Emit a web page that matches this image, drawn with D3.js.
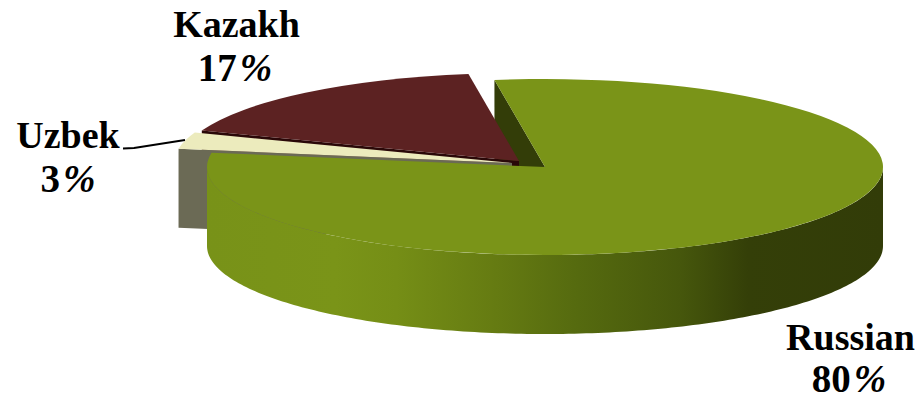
<!DOCTYPE html>
<html>
<head>
<meta charset="utf-8">
<script src="https://cdnjs.cloudflare.com/ajax/libs/d3/7.8.5/d3.min.js"></script>
<style>
html,body{margin:0;padding:0;background:#fff;overflow:hidden}
svg{display:block}
text{font-family:"Liberation Serif",serif;font-weight:700;fill:#000;text-anchor:middle}
</style>
</head>
<body>
<svg id="chart" width="922" height="400"></svg>
<script>
// Data
const categories = ["Russian", "Uzbek", "Kazakh"];
const shares = [80, 3, 17];
const shareLabels = ["80%", "3%", "17%"];

// Appearance
const topColors = ["#7a9418", "#ecebbd", "#5c2222"];
const cutColors = ["#333d08", "#6b6a55", "#2a0808"];

const svg = d3.select("#chart");
const rx = 338, ry = 88, depth = 79;
const toRad = d => d * Math.PI / 180;
const startDeg = -8.6;

const pie = d3.pie().sort(null).value(d => d)
  .startAngle(toRad(startDeg)).endAngle(toRad(startDeg + 360));
const slices = pie(shares);

// Centres of each (exploded) slice on the page
const centers = [{x:545,y:167},{x:512,y:163},{x:519,y:161}];

const arc = d3.arc().innerRadius(0).outerRadius(rx);
const px = (c,a) => c.x + rx*Math.sin(a);
const py = (c,a) => c.y - ry*Math.cos(a);

const defs = svg.append("defs");
const grad = defs.append("linearGradient").attr("id","wall")
  .attr("gradientUnits","userSpaceOnUse")
  .attr("x1",207).attr("x2",883).attr("y1",0).attr("y2",0);
[[0,"#789218"],[0.19,"#7a9418"],[0.28,"#758e16"],[0.42,"#667c12"],[0.55,"#556a0f"],[0.70,"#46570c"],[0.80,"#343f08"],[1,"#323c08"]]
  .forEach(s => grad.append("stop").attr("offset",s[0]).attr("stop-color",s[1]));

function cutWall(i, a, color){
  const c = centers[i];
  const p = [[c.x,c.y],[px(c,a),py(c,a)],[px(c,a),py(c,a)+depth],[c.x,c.y+depth]];
  svg.append("path").attr("d", d3.line()(p)+"Z").attr("fill",color);
}
function topFace(i){
  const c = centers[i];
  svg.append("path").attr("d", arc(slices[i]))
    .attr("transform",`translate(${c.x},${c.y}) scale(1,${ry/rx})`)
    .attr("fill",topColors[i]);
}

// back to front
cutWall(0, slices[0].startAngle, cutColors[0]);
cutWall(2, slices[2].startAngle, cutColors[2]);
topFace(2);
cutWall(1, slices[1].startAngle, cutColors[1]);
topFace(1);

// Russian outer wall: front half of its ellipse
const c0 = centers[0];
const wallAngles = d3.range(90, 270.01, 1).map(toRad);
const wall = d3.area()
  .x(a => px(c0,a))
  .y0(a => py(c0,a))
  .y1(a => py(c0,a)+depth);
svg.append("path").attr("d", wall(wallAngles)).attr("fill","url(#wall)");
topFace(0);

// Leader line for Uzbek
svg.append("path").attr("d", d3.line()([[123,148.5],[134,148],[185,140]]))
  .attr("fill","none").attr("stroke","#000").attr("stroke-width",2);

// Labels
const labelPos = [
  {x:850.5,y:350,px:849,dy:41.5},
  {x:68,y:148,px:68,dy:44},
  {x:236.5,y:37,px:235,dy:44}
];
categories.forEach((name,i)=>{
  const p = labelPos[i];
  svg.append("text").attr("x",p.x).attr("y",p.y).attr("font-size",38).text(name);
  const t = svg.append("text").attr("x",p.px).attr("y",p.y+p.dy).attr("font-size",39);
  t.append("tspan").text(shareLabels[i].slice(0,-1));
  t.append("tspan").attr("dx",3).attr("font-style","italic").text(shareLabels[i].slice(-1));
});
</script>
</body>
</html>
